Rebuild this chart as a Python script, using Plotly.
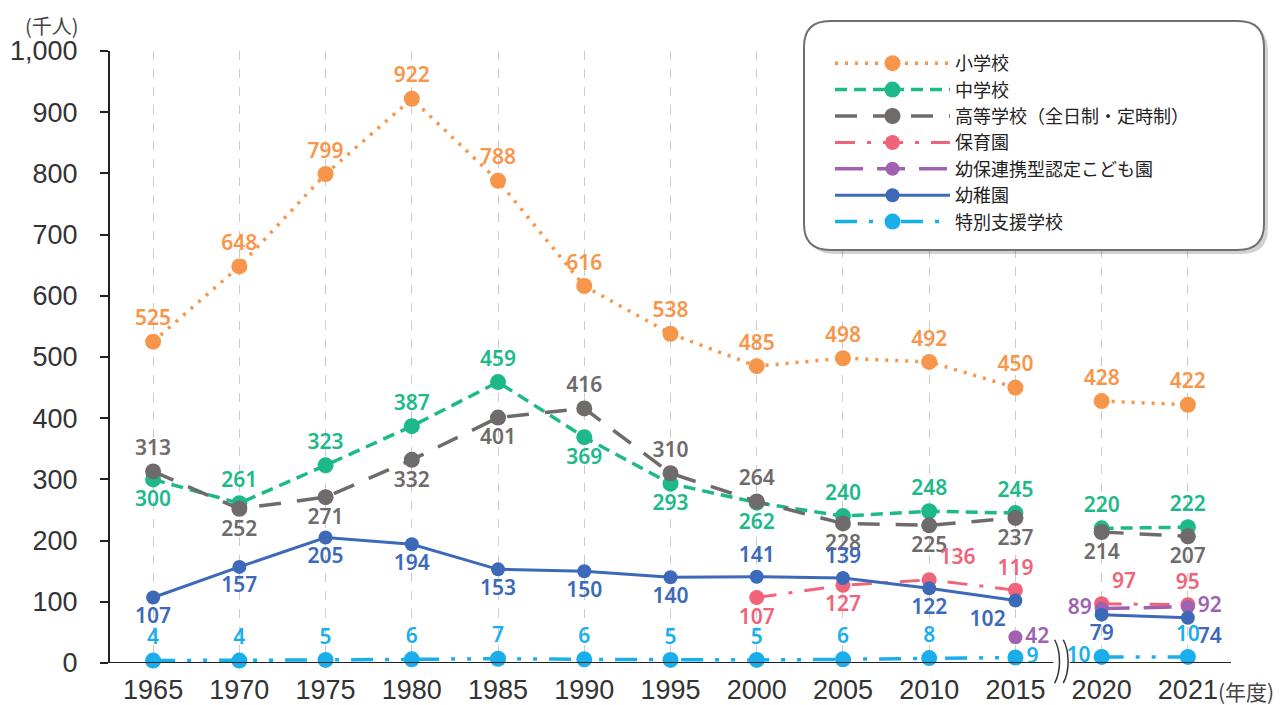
import plotly.graph_objects as go

years = ["1965", "1970", "1975", "1980", "1985", "1990", "1995", "2000",
         "2005", "2010", "2015", "2020", "2021"]

shogakko = [525, 648, 799, 922, 788, 616, 538, 485, 498, 492, 450, 428, 422]
chugakko = [300, 261, 323, 387, 459, 369, 293, 262, 240, 248, 245, 220, 222]
koto = [313, 252, 271, 332, 401, 416, 310, 264, 228, 225, 237, 214, 207]
hoikuen = [None, None, None, None, None, None, None, 107, 127, 136, 119, 97, 95]
kodomoen = [None, None, None, None, None, None, None, None, None, None, 42, 89, 92]
yochien = [107, 157, 205, 194, 153, 150, 140, 141, 139, 122, 102, 79, 74]
tokubetsu = [4, 4, 5, 6, 7, 6, 5, 5, 6, 8, 9, 10, 10]

names = ["小学校", "中学校", "高等学校（全日制・定時制）", "保育園",
         "幼保連携型認定こども園", "幼稚園", "特別支援学校"]

# label positions (style, kept separate from data)
T, B = "top center", "bottom center"
pos = {
    "小学校": [T] * 13,
    "中学校": [B, T, T, T, T, B, B, B, T, T, T, T, T],
    "高等学校（全日制・定時制）": [T, B, B, B, B, T, T, T, B, B, B, B, B],
    "保育園": [T] * 7 + [B, B, "top right", T, "top right", T],
    "幼保連携型認定こども園": [T] * 10 + ["middle right", "middle left", "middle right"],
    "幼稚園": [B, B, B, B, B, B, B, T, T, B, "bottom left", B, "bottom right"],
    "特別支援学校": [T] * 10 + ["middle right", "middle left", T],
}

colors = ["#F7964A", "#1DB98A", "#6F6B6B", "#F0647A", "#A062B0", "#3D69B9", "#1AAFEA"]
dashes = ["3px,7px", "12px,7px", "22px,16px", "20px,12px,4px,12px",
          "28px,14px", "solid", "22px,12px,4px,12px,4px,12px"]
msizes = [16, 16, 16, 15, 14, 14, 16]
lwidths = [3.5, 3.5, 3.5, 3, 3.5, 3, 3.5]

series = [shogakko, chugakko, koto, hoikuen, kodomoen, yochien, tokubetsu]

fig = go.Figure()
xs = list(range(len(years)))
segments = [(0, 11), (11, 13)]

for name, vals, col, dash, ms, lw in zip(names, series, colors, dashes, msizes, lwidths):
    for a, b in segments:
        sx = xs[a:b]
        sy = vals[a:b]
        st = ["" if v is None else str(v) for v in sy]
        fig.add_trace(go.Scatter(
            x=sx, y=sy, mode="lines+markers+text",
            text=st, textposition=pos[name][a:b],
            textfont=dict(color=col, size=21, family="Noto Sans", weight=600),
            line=dict(color=col, width=lw, dash=dash),
            marker=dict(color=col, size=ms),
            cliponaxis=False, showlegend=False, legendgroup=name, name=name,
            connectgaps=False,
        ))
    # legend entry
    fig.add_trace(go.Scatter(
        x=[None], y=[None], mode="lines+markers", name=name, legendgroup=name,
        line=dict(color=col, width=lw, dash=dash), marker=dict(color=col, size=ms),
        showlegend=True,
    ))

OFF = 8  # page body margin
L, R, TOP, BOT = 110 - OFF, 54, 51 - OFF, 42
W, H = 1285 - OFF, 705 - OFF
pw, ph = W - L - R, H - TOP - BOT

def px2paper(px, py):
    # page pixel coordinates -> paper coordinates
    return (px - OFF - L) / pw, (H - BOT - (py - OFF)) / ph

# rounded legend frame
x0, y1 = px2paper(804, 21)
x1, y0 = px2paper(1264, 250)
rx, ry = 26 / pw, 26 / ph
def rrect(x0, y0, x1, y1):
    return (f"M{x0+rx},{y1} L{x1-rx},{y1} Q{x1},{y1} {x1},{y1-ry} "
            f"L{x1},{y0+ry} Q{x1},{y0} {x1-rx},{y0} L{x0+rx},{y0} "
            f"Q{x0},{y0} {x0},{y0+ry} L{x0},{y1-ry} Q{x0},{y1} {x0+rx},{y1} Z")
sdx, sdy = 4 / pw, 4 / ph
shapes = [
    dict(type="path", xref="paper", yref="paper",
         path=rrect(x0 + sdx, y0 - sdy, x1 + sdx, y1 - sdy),
         fillcolor="rgba(0,0,0,0.18)", line=dict(width=0), layer="above"),
    dict(type="path", xref="paper", yref="paper", path=rrect(x0, y0, x1, y1),
         fillcolor="white", line=dict(color="#707070", width=2), layer="above"),
]

# x axis line with break
shapes.append(dict(type="line", xref="x", yref="y", x0=-0.5, x1=10.44, y0=0, y1=0,
                   line=dict(color="#222", width=2), layer="above"))
shapes.append(dict(type="line", xref="x", yref="y", x0=10.63, x1=12.5, y0=0, y1=0,
                   line=dict(color="#222", width=2), layer="above"))
for bx in (10.455, 10.555):
    ya, yb = 0.038, -0.033
    w = 0.075
    shapes.append(dict(type="path", xref="x", yref="paper",
                       path=f"M{bx},{ya} C{bx+w},{ya-0.02} {bx+w},{yb+0.02} {bx},{yb}",
                       line=dict(color="#333", width=1.5), layer="above"))

tickfont = dict(size=27, color="#333", family="Liberation Sans")

fig.update_layout(
    width=W, height=H,
    margin=dict(l=L, r=R, t=TOP, b=BOT),
    plot_bgcolor="white", paper_bgcolor="white",
    font=dict(family="Noto Sans CJK JP", color="#333"),
    shapes=shapes,
    legend=dict(x=px2paper(830, 0)[0], y=px2paper(0, 45)[1], xanchor="left", yanchor="top",
                bgcolor="rgba(0,0,0,0)", font=dict(size=18, color="#222"),
                itemwidth=115, tracegroupgap=0, itemsizing="trace"),
    xaxis=dict(range=[-0.5, 12.5], tickvals=xs, ticktext=years, automargin=False,
               showgrid=True, gridcolor="#cccccc", griddash="dash", gridwidth=1,
               showline=False, zeroline=False, ticks="",
               ticklabelstandoff=8, tickfont=tickfont),
    yaxis=dict(range=[0, 1000], dtick=100, tickformat=",", showgrid=False, automargin=False,
               showline=True, linecolor="#222", linewidth=2, zeroline=False,
               ticks="outside", ticklen=8, tickcolor="#222", tickwidth=2,
               ticklabelstandoff=17, tickfont=tickfont),
    annotations=[
        dict(text="(千人)", xref="paper", yref="paper", x=px2paper(52, 0)[0],
             y=px2paper(0, 9)[1], xanchor="center", yanchor="top",
             showarrow=False, font=dict(size=20, color="#444")),
        dict(text="(年度)", xref="paper", yref="paper", x=px2paper(1216, 0)[0],
             y=px2paper(0, 691)[1], xanchor="left", yanchor="middle",
             showarrow=False, font=dict(size=21, color="#444")),
    ],
)

fig.write_html("out.html")
